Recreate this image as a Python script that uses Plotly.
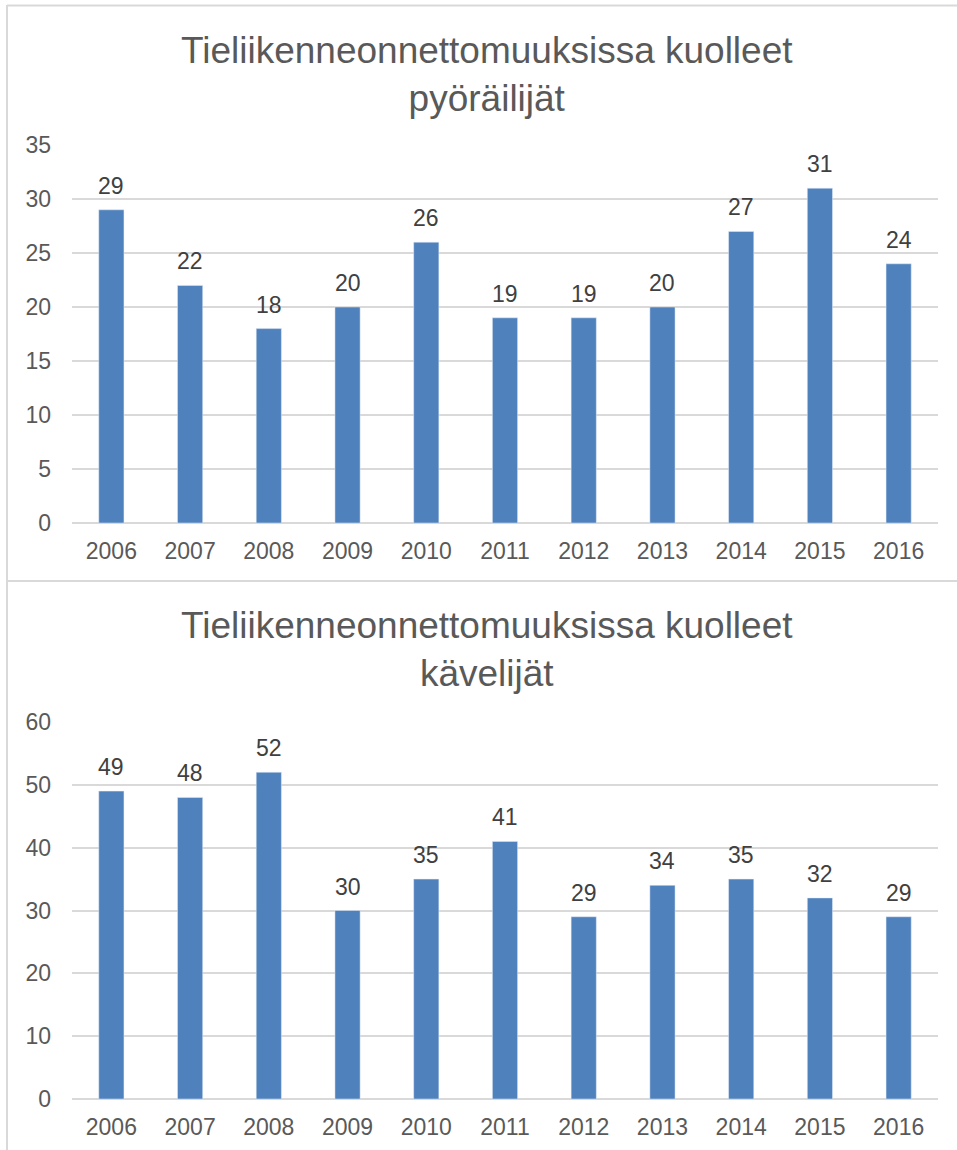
import plotly.graph_objects as go

years = ["2006", "2007", "2008", "2009", "2010", "2011", "2012", "2013", "2014", "2015", "2016"]
cyclists = [29, 22, 18, 20, 26, 19, 19, 20, 27, 31, 24]
pedestrians = [49, 48, 52, 30, 35, 41, 29, 34, 35, 32, 29]
title_top = "Tieliikenneonnettomuuksissa kuolleet<br>pyöräilijät"
title_bottom = "Tieliikenneonnettomuuksissa kuolleet<br>kävelijät"
ticks_top = [0, 5, 10, 15, 20, 25, 30, 35]
ticks_bottom = [0, 10, 20, 30, 40, 50, 60]

W, H = 957, 1150
BAR = "#4F81BD"
GRID = "#D9D9D9"
TXT = "#595959"
LBL = "#404040"
FONT = "Liberation Sans, Arial, sans-serif"


def px(x):
    return x / W


def py(y):
    return 1 - y / H


fig = go.Figure()
fig.add_trace(go.Bar(x=years, y=cyclists, marker_color=BAR, xaxis="x", yaxis="y",
                     hoverinfo="x+y"))
fig.add_trace(go.Bar(x=years, y=pedestrians, marker_color=BAR, xaxis="x2", yaxis="y2",
                     hoverinfo="x+y"))

annotations = []
# category axes: position value labels by category serial number
for i, v in enumerate(cyclists):
    annotations.append(dict(x=i, y=v, xref="x", yref="y", text=str(v), showarrow=False,
                            xanchor="center", yanchor="middle", yshift=24,
                            font=dict(size=23, color=LBL, family=FONT)))
for i, v in enumerate(pedestrians):
    annotations.append(dict(x=i, y=v, xref="x2", yref="y2", text=str(v), showarrow=False,
                            xanchor="center", yanchor="middle", yshift=24,
                            font=dict(size=23, color=LBL, family=FONT)))

annotations.append(dict(x=px(487), y=py(74), xref="paper", yref="paper", text=title_top,
                        showarrow=False, xanchor="center", yanchor="middle",
                        font=dict(size=37, color=TXT, family=FONT)))
annotations.append(dict(x=px(487), y=py(649), xref="paper", yref="paper", text=title_bottom,
                        showarrow=False, xanchor="center", yanchor="middle",
                        font=dict(size=37, color=TXT, family=FONT)))

axis_common = dict(showline=False, ticks="", automargin=False,
                   tickfont=dict(size=23, color=TXT, family=FONT))

fig.update_layout(
    width=W, height=H,
    margin=dict(l=0, r=0, t=0, b=0, pad=0),
    paper_bgcolor="white", plot_bgcolor="white",
    showlegend=False,
    bargap=0.68,
    font=dict(family=FONT, color=TXT),
    xaxis=dict(domain=[px(72), px(938)], anchor="y", type="category", categoryarray=years,
               range=[-0.5, len(years) - 0.5], showgrid=False, ticklabelstandoff=12, **axis_common),
    yaxis=dict(domain=[py(523), py(145)], anchor="x", range=[0, 35], tickvals=ticks_top,
               showgrid=True, gridcolor=GRID, gridwidth=1.5, zeroline=True, zerolinecolor=GRID,
               zerolinewidth=1.5, ticklabelstandoff=20, **axis_common),
    xaxis2=dict(domain=[px(72), px(938)], anchor="y2", type="category", categoryarray=years,
                range=[-0.5, len(years) - 0.5], showgrid=False, ticklabelstandoff=12, **axis_common),
    yaxis2=dict(domain=[py(1099), py(722)], anchor="x2", range=[0, 60], tickvals=ticks_bottom,
                showgrid=True, gridcolor=GRID, gridwidth=1.5, zeroline=True, zerolinecolor=GRID,
                zerolinewidth=1.5, ticklabelstandoff=20, **axis_common),
    annotations=annotations,
    shapes=[
        dict(type="line", xref="paper", yref="paper", x0=px(7), x1=1, y0=py(5.5), y1=py(5.5),
             line=dict(color=GRID, width=2)),
        dict(type="line", xref="paper", yref="paper", x0=px(7), x1=px(7), y0=py(5), y1=0,
             line=dict(color=GRID, width=2)),
        dict(type="line", xref="paper", yref="paper", x0=px(7), x1=1, y0=py(581), y1=py(581),
             line=dict(color=GRID, width=2)),
    ],
)

fig.write_html("out.html", config={"displayModeBar": False},
               post_script="document.body.style.margin='0';")
